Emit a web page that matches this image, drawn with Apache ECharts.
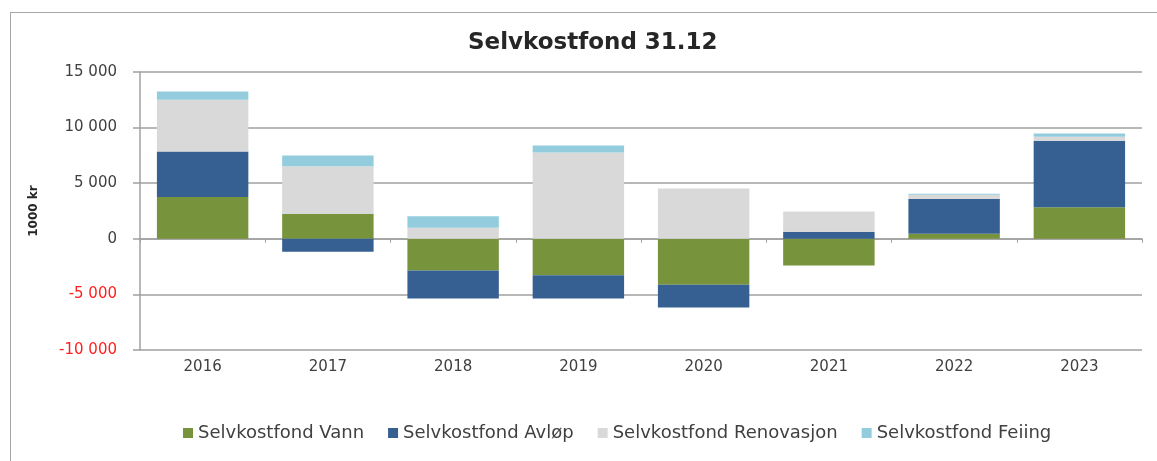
<!DOCTYPE html>
<html>
<head>
<meta charset="utf-8">
<script src="https://cdn.jsdelivr.net/npm/echarts@6/dist/echarts.min.js"></script>
<style>
  html, body { margin: 0; padding: 0; background: #ffffff; overflow: hidden; width: 1157px; height: 461px; }
  #chart { position: absolute; left: 0; top: 0; width: 1157px; height: 461px; }
  #frame { position: absolute; left: 10px; top: 12px; width: 1147px; height: 449px;
           border-top: 1px solid #a6a6a6; border-left: 1px solid #a6a6a6;
           box-sizing: border-box; pointer-events: none; }
</style>
</head>
<body>
<div id="chart"></div>
<div id="frame"></div>
<script>
// Fund balances at 31.12, in 1000 kr
const years = ['2016', '2017', '2018', '2019', '2020', '2021', '2022', '2023'];
const vann       = [3770, 2240, -2850, -3270, -4130, -2400, 450, 2840];
const avlop      = [4090, -1170, -2510, -2090, -2040, 630, 3140, 5950];
const renovasjon = [4640, 4280, 990, 7770, 4520, 1820, 380, 380];
const feiing     = [750, 960, 1040, 630, 0, 0, 90, 300];

const seriesNames = ['Selvkostfond Vann', 'Selvkostfond Avløp', 'Selvkostfond Renovasjon', 'Selvkostfond Feiing'];
const seriesColors = ['#77933c', '#376092', '#d9d9d9', '#93cddd'];
const seriesData = [vann, avlop, renovasjon, feiing];

const axisGrey = '#a0a0a0';
const textGrey = '#404040';
const font = 'DejaVu Sans';

function spaced(v) {
  return String(v).replace(/\B(?=(\d{3})+(?!\d))/g, ' ');
}

const chart = echarts.init(document.getElementById('chart'));
chart.setOption({
  animation: false,
  backgroundColor: '#ffffff',
  title: {
    text: 'Selvkostfond 31.12',
    left: 463,
    top: 27,
    textStyle: { fontFamily: font, fontSize: 23, fontWeight: 'bold', color: '#262626' }
  },
  legend: {
    left: 178,
    top: 419,
    itemWidth: 10,
    itemHeight: 10,
    itemGap: 24,
    icon: 'rect',
    textStyle: { fontFamily: font, fontSize: 18, color: textGrey },
    data: seriesNames
  },
  grid: { left: 140, right: 15, top: 72, bottom: 111 },
  xAxis: [
    {
      type: 'category',
      data: years,
      position: 'bottom',
      axisLine: { show: false, onZero: false },
      axisTick: { show: false },
      axisLabel: { margin: 10, fontFamily: font, fontSize: 15, color: textGrey }
    },
    {
      type: 'category',
      data: years,
      position: 'top',
      axisLine: { show: true, onZero: true, lineStyle: { color: axisGrey, width: 1.5 } },
      axisTick: { show: true, inside: true, length: 4, lineStyle: { color: axisGrey } },
      axisLabel: { show: false }
    }
  ],
  yAxis: {
    type: 'value',
    min: -10000,
    max: 15000,
    interval: 5000,
    name: '1000 kr',
    nameLocation: 'middle',
    nameGap: 100,
    nameRotate: 90,
    nameTextStyle: { fontFamily: font, fontSize: 12, fontWeight: 'bold', color: '#262626' },
    axisLine: { show: true, lineStyle: { color: axisGrey, width: 1.5 } },
    axisTick: { show: true, length: 7, lineStyle: { color: axisGrey, width: 1.5 } },
    splitLine: { show: true, lineStyle: { color: axisGrey, width: 1.5 } },
    axisLabel: {
      margin: 23,
      fontFamily: font,
      fontSize: 15,
      formatter: spaced,
      color: function (v) { return Number(v) < 0 ? '#ff1f1f' : textGrey; }
    }
  },
  series: seriesNames.map(function (name, i) {
    return {
      name: name,
      type: 'bar',
      stack: 'fond',
      barWidth: '73%',
      xAxisIndex: 0,
      itemStyle: { color: seriesColors[i] },
      data: seriesData[i]
    };
  })
});
</script>
</body>
</html>
